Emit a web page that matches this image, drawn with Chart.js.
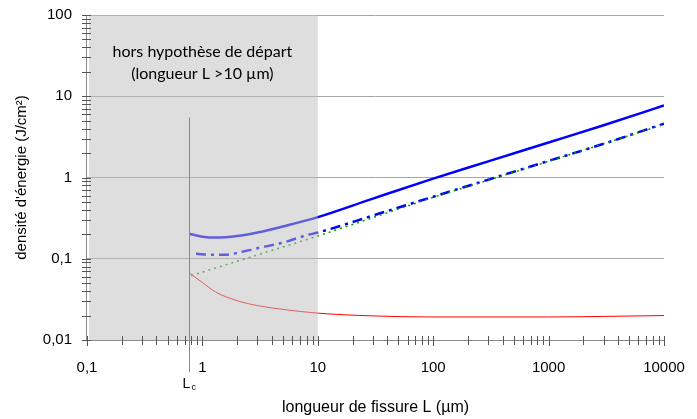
<!DOCTYPE html>
<html>
<head>
<meta charset="utf-8">
<script src="https://cdn.jsdelivr.net/npm/chart.js@4"></script>
<style>
  html, body { margin: 0; padding: 0; background: #fff; }
  #wrap { width: 697px; height: 419px; }
</style>
</head>
<body>
<div id="wrap"><canvas id="c"></canvas></div>
<script>
// Data (log-log)
const yTicks = [0.01, 0.1, 1, 10, 100];
const xTicks = [0.1, 1, 10, 100, 1000, 10000];

const solidX = [0.77, 1, 1.3, 2, 3, 5, 10, 30, 100, 300, 1000, 3000, 10000];
const solidY = [0.203, 0.187, 0.182, 0.19, 0.21, 0.25, 0.325, 0.55, 0.97, 1.58, 2.7, 4.4, 7.7];

const dashX = [0.88, 1.2, 1.6, 2, 3, 5, 8, 10, 30, 100, 300, 1000, 3000, 10000];
const dashY = [0.115, 0.112, 0.112, 0.118, 0.135, 0.158, 0.195, 0.21, 0.34, 0.58, 0.94, 1.6, 2.6, 4.6];

const greenX = [0.8, 10, 100, 1000, 10000];
const greenY = [0.062, 0.19, 0.57, 1.58, 4.5];

const redX = [0.78, 1, 1.3, 2, 3, 5, 10, 30, 100, 1000, 3000, 10000];
const redY = [0.066, 0.051, 0.039, 0.0305, 0.0265, 0.0238, 0.0214, 0.0198, 0.0192, 0.0192, 0.0195, 0.02];

const Lc = 0.77;
const shadeFrom = 0.1, shadeTo = 10;

function pts(xs, ys) {
    return xs.map((x, i) => ({ x: x, y: ys[i] }));
}

function fmt(v) {
    return String(v).replace('.', ',');
}

const decorations = {
    id: 'decorations',
    afterDatasetsDraw(chart) {
        const ctx = chart.ctx;
        const xs = chart.scales.x, ys = chart.scales.y;
        const area = chart.chartArea;
        ctx.save();

        // grey zone, semi transparent over the curves
        const x0 = xs.getPixelForValue(shadeFrom), x1 = xs.getPixelForValue(shadeTo);
        ctx.fillStyle = 'rgba(190,190,190,0.5)';
        ctx.fillRect(x0 + 2, area.top, x1 - x0 - 2, area.bottom - area.top);

        // Lc vertical line
        const lx = Math.round(xs.getPixelForValue(Lc)) + 0.5;
        ctx.strokeStyle = '#8a8a8a';
        ctx.lineWidth = 1;
        ctx.beginPath();
        ctx.moveTo(lx, ys.getPixelForValue(5.5));
        ctx.lineTo(lx, area.bottom + 32);
        ctx.stroke();

        // axes
        ctx.strokeStyle = '#8a8a8a';
        ctx.beginPath();
        ctx.moveTo(area.left, area.bottom + 0.5);
        ctx.lineTo(area.right, area.bottom + 0.5);
        ctx.moveTo(area.left - 0.5, area.top);
        ctx.lineTo(area.left - 0.5, area.bottom);
        ctx.stroke();

        ctx.strokeStyle = '#555';
        ctx.beginPath();
        // x ticks
        for (let d = 0.1; d < 5000; d *= 10) {
            for (let k = 1; k <= 9; k++) {
                const p = Math.round(xs.getPixelForValue(k * d)) + 0.5;
                ctx.moveTo(p, area.bottom - 4);
                ctx.lineTo(p, area.bottom + (k === 1 ? 6 : 5));
            }
        }
        const pe = Math.round(xs.getPixelForValue(10000)) + 0.5;
        ctx.moveTo(pe, area.bottom - 4);
        ctx.lineTo(pe, area.bottom + 6);
        // y ticks
        for (let d = 0.01; d < 50; d *= 10) {
            for (let k = 1; k <= 9; k++) {
                const p = Math.round(ys.getPixelForValue(k * d)) + 0.5;
                ctx.moveTo(area.left - 5, p);
                ctx.lineTo(area.left + 4, p);
            }
        }
        const pt = Math.round(ys.getPixelForValue(100)) + 0.5;
        ctx.moveTo(area.left - 5, pt);
        ctx.lineTo(area.left + 4, pt);
        ctx.stroke();

        // annotation in grey zone
        const cx = xs.getPixelForValue(1);
        ctx.fillStyle = '#000';
        ctx.textAlign = 'center';
        ctx.textBaseline = 'middle';
        ctx.font = '16px Lato';
        ctx.fillText('hors hypothèse de départ', cx, area.top + 37);
        ctx.fillText('(longueur L >10 µm)', cx, area.top + 59);

        // Lc label
        ctx.font = '14px "Liberation Sans"';
        ctx.textAlign = 'left';
        ctx.textBaseline = 'alphabetic';
        ctx.fillText('L', lx - 7, area.bottom + 48);
        ctx.font = '9px "Liberation Sans"';
        ctx.fillText('c', lx + 2, area.bottom + 50);

        ctx.restore();
    }
};

const ctx = document.getElementById('c');
new Chart(ctx, {
    type: 'scatter',
    data: {
        datasets: [{
            label: 'red',
            data: pts(redX, redY),
            showLine: true,
            borderColor: '#ff0000',
            borderWidth: 1,
            pointRadius: 0,
            cubicInterpolationMode: 'monotone'
        }, {
            label: 'green',
            data: pts(greenX, greenY),
            showLine: true,
            borderColor: '#009900',
            borderWidth: 1.5,
            borderDash: [2, 4],
            pointRadius: 0
        }, {
            label: 'dashdot',
            data: pts(dashX, dashY),
            showLine: true,
            borderColor: '#0000ff',
            borderWidth: 2.5,
            borderDash: [10, 5, 3, 5],
            pointRadius: 0,
            cubicInterpolationMode: 'monotone'
        }, {
            label: 'solid',
            data: pts(solidX, solidY),
            showLine: true,
            borderColor: '#0000ff',
            borderWidth: 2.5,
            pointRadius: 0,
            cubicInterpolationMode: 'monotone'
        }]
    },
    options: {
        responsive: true,
        maintainAspectRatio: false,
        animation: false,
        events: [],
        layout: { padding: { top: 15, right: 33, left: 0, bottom: 0 } },
        plugins: {
            legend: { display: false },
            tooltip: { enabled: false }
        },
        scales: {
            x: {
                type: 'logarithmic',
                min: 0.1,
                max: 10000,
                afterBuildTicks: s => { s.ticks = xTicks.map(v => ({ value: v })); },
                afterFit: s => {
                    s.height = 79;
                    s.paddingLeft = 0;
                    s.paddingRight = 0;
                },
                grid: { display: false, drawTicks: false },
                border: { display: false },
                ticks: {
                    color: '#000',
                    font: { family: 'Liberation Sans', size: 15 },
                    padding: 19,
                    maxRotation: 0,
                    autoSkip: false,
                    callback: v => fmt(v)
                },
                title: {
                    display: true,
                    text: 'longueur de fissure L (µm)',
                    color: '#000',
                    font: { family: 'Liberation Sans', size: 16 },
                    padding: { top: 0, bottom: 2 }
                }
            },
            y: {
                type: 'logarithmic',
                min: 0.01,
                max: 100,
                afterBuildTicks: s => { s.ticks = yTicks.map(v => ({ value: v })); },
                afterFit: s => {
                    s.width = 87;
                    s.paddingTop = 0;
                    s.paddingBottom = 0;
                },
                grid: { color: '#a6a6a6', drawTicks: false },
                border: { display: false },
                ticks: {
                    color: '#000',
                    font: { family: 'Liberation Sans', size: 15 },
                    padding: 15,
                    autoSkip: false,
                    callback: v => fmt(v)
                },
                title: {
                    display: true,
                    text: 'densité d\'énergie (J/cm²)',
                    color: '#000',
                    font: { family: 'Liberation Sans', size: 15 },
                    padding: { top: 13, bottom: 0 }
                }
            }
        }
    },
    plugins: [decorations]
});
</script>
</body>
</html>
